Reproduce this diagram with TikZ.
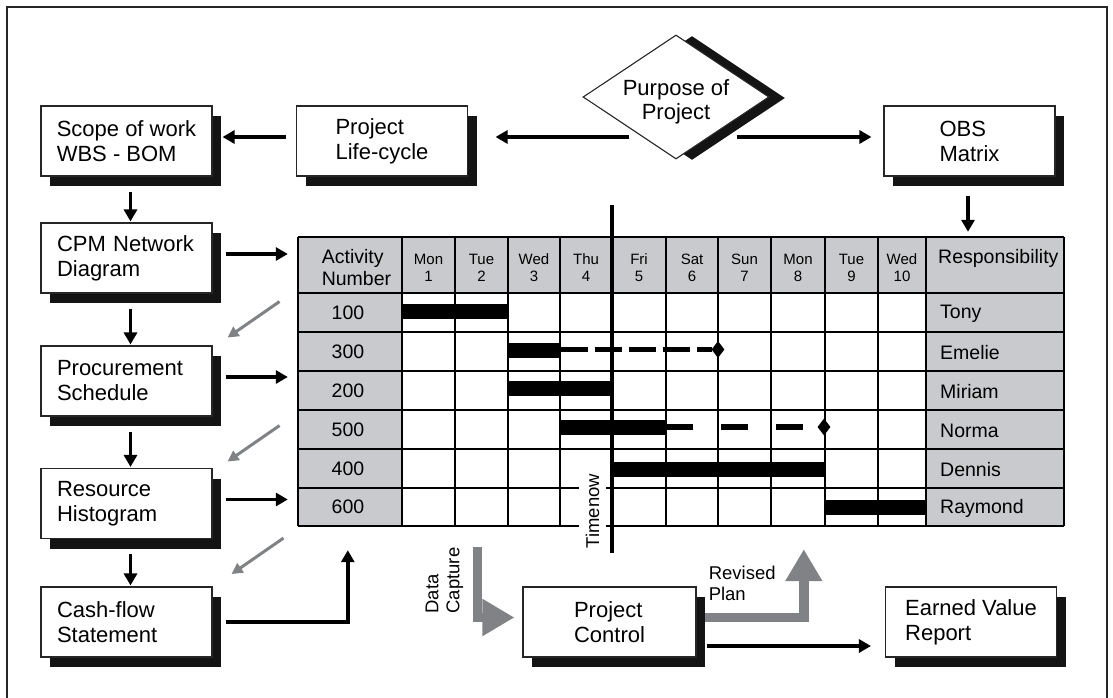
\documentclass[tikz,border=0pt]{standalone}
\usepackage{fontspec}
\setmainfont{Liberation Sans}
\usetikzlibrary{arrows.meta,calc,shapes.geometric,shadows}
\definecolor{cellgrey}{RGB}{200,202,205}
\definecolor{flowgrey}{RGB}{128,130,133}

\begin{document}
\begin{tikzpicture}[x=1pt, y=-1pt,
    box/.style={draw=black!85, line width=1.1pt, fill=white, minimum width=171pt, minimum height=70pt,
      inner sep=0pt, align=left, font=\fontsize{22}{25}\selectfont,
      drop shadow={shadow xshift=9pt, shadow yshift=-10pt, fill=black!92, opacity=1}},
    stepbox/.style={box, text width=139pt, inner xsep=16pt},
    arr/.style={line width=3.5pt, -{Triangle[length=12pt,width=13pt]}},
    hint/.style={flowgrey, line width=3pt, -{Triangle[length=11pt,width=11pt]}},
    bigarr/.style={flowgrey, line width=9.5pt, -{Triangle[length=32pt,width=35pt]}},
    grid/.style={line width=1.8pt},
    bar/.style={line width=15pt},
    slack/.style={line width=5.5pt},
    milestone/.style={diamond, fill=black, inner sep=0pt, minimum width=13pt, minimum height=17pt},
    day/.style={align=center, inner sep=0pt, font=\fontsize{15}{17}\selectfont},
    cell/.style={inner sep=0pt, font=\fontsize{19.5}{21.5}\selectfont},
    note/.style={align=left, inner sep=0pt, font=\fontsize{18.5}{21}\selectfont}]
  \useasboundingbox (0,0) rectangle (1113,698);
  \draw[line width=1.3pt, black!85] (7,698) -- (7,7) -- (1107,7) -- (1107,698);

  % planning boxes
  \node[box] (scope) at (126.5,141) {Scope of work\\WBS - BOM};
  \node[box] (life) at (382,141) {Project\\Life-cycle};
  \node[diamond, aspect=1.5, draw=black!85, line width=1.1pt, fill=white, inner sep=0pt,
        minimum width=186pt, minimum height=124pt,
        drop shadow={shadow xshift=16pt, shadow yshift=-1pt, fill=black!92, opacity=1},
        label={[align=center, font=\fontsize{22}{24}\selectfont, shift={(0,5)}]center:{Purpose of\\Project}}]
        (purpose) at (676,97) {};
  \node[box] (obs) at (969.5,141) {OBS\\Matrix};
  \node[stepbox] (cpm) at (126.5,258) {CPM Network\\Diagram};
  \node[stepbox] (proc) at (126.5,381) {Procurement\\Schedule};
  \node[stepbox] (res) at (126.5,503.5) {Resource\\Histogram};
  \node[stepbox] (cash) at (126.5,622) {Cash-flow\\Statement};
  \node[box, minimum width=173pt] (ctrl) at (609.5,622) {Project\\Control};
  \node[box] (evr) at (971,622) {Earned Value\\Report};

  % bar chart
  \node[fill=cellgrey, minimum width=766pt, minimum height=289pt, inner sep=0pt] (gantt) at (681,381.5) {};
  \fill[white] (402,293) rectangle (926,526);
  \foreach \x in {298,402,455,508,560,612,666,718,771,825,878,926,1064}
    \draw[grid] (\x,237) -- (\x,526);
  \foreach \y in {237,293,332,371,410,449,488,526}
    \draw[grid] (298,\y) -- (1064,\y);
  \node[cell, align=left] (acthead) at (356.5,267.5) {Activity\\Number};
  \node[cell, anchor=west] (resphead) at (938,258) {Responsibility};
  \foreach \d/\n/\x in {Mon/1/428.5, Tue/2/481.5, Wed/3/534, Thu/4/586, Fri/5/639,
                        Sat/6/692, Sun/7/744.5, Mon/8/798, Tue/9/851.5, Wed/10/902}
    \node[day] (day-\n) at (\x,268) {\d\\\n};
  \foreach \n/\who/\y in {100/Tony/312.5, 300/Emelie/351.5, 200/Miriam/390.5,
                          500/Norma/429.5, 400/Dennis/468.5, 600/Raymond/507}{
    \node[cell] (num-\n) at (348,\y) {\n};
    \node[cell, anchor=west] (who-\n) at (940,\y+1) {\who};
  }
  \foreach \xa/\xb/\y in {402/508/311.5, 508/560/350, 508/612/388.5, 560/666/427, 612/825/469, 825/926/507.5}
    \draw[bar] (\xa,\y) -- (\xb,\y);
  \draw[slack, dash pattern=on 27pt off 7pt] (561,349.5) -- (712,349.5);
  \draw[slack, dash pattern=on 27pt off 28pt] (666,427) -- (818,427);
  \node[milestone] (ms-300) at (718,349.5) {};
  \node[milestone] (ms-500) at (824,427) {};
  \node[note, rotate=90, fill=white, inner xsep=3pt, inner ysep=7pt] (timenow) at (592.5,511) {Timenow};
  \draw[line width=3.5pt] ($(gantt.north west)+(314,-32)$) -- ($(gantt.south west)+(314,27)$);

  % flow
  \draw[arr] ([shift={(-10,-4)}]life.west) -- ([shift={(10,-4)}]scope.east);
  \draw[arr] ([shift={(47,40)}]purpose.west) -- ([shift={(27.5,-4)}]life.east);
  \draw[arr] ([shift={(-33,40)}]purpose.east) -- ([shift={(-12,-4)}]obs.west);
  \draw[arr] ([shift={(-1.5,19)}]obs.south) -- ($(obs.south |- gantt.north)+(-1.5,-5)$);
  \foreach \a/\b in {scope/cpm, cpm/proc, proc/res, res/cash}
    \draw[arr] ([shift={(4,15)}]\a.south) -- ([shift={(4,-1)}]\b.north);
  \foreach \a in {cpm, proc, res}
    \draw[arr] ([shift={(13,-4)}]\a.east) -- ($(\a.east -| gantt.west)+(-10,-4)$);
  \foreach \b/\dx/\dy in {cpm/67/8, proc/67/9, res/71/-1}
    \draw[hint] ([shift={(\dx,\dy)}]\b.south east) -- ++(-52,36);
  \draw[arr] ([shift={(13,0)}]cash.east) -| ($(gantt.south west)+(50,24)$);
  \draw[bigarr] ($(ctrl.north west)+(-45,-39)$) |- ([shift={(-8,-4.5)}]ctrl.west);
  \draw[bigarr] ([shift={(8,-4.5)}]ctrl.east) -| ($(gantt.south west)+(506,23)$);
  \draw[arr] ([shift={(10,24)}]ctrl.east) -- ([shift={(-14,24)}]evr.west);
  \node[note, rotate=90] (capture) at ([shift={(-78,-6)}]ctrl.north west) {Data\\Capture};
  \node[note, anchor=north west] (revised) at ([shift={(12,-20.5)}]ctrl.north east) {Revised\\Plan};
\end{tikzpicture}
\end{document}
